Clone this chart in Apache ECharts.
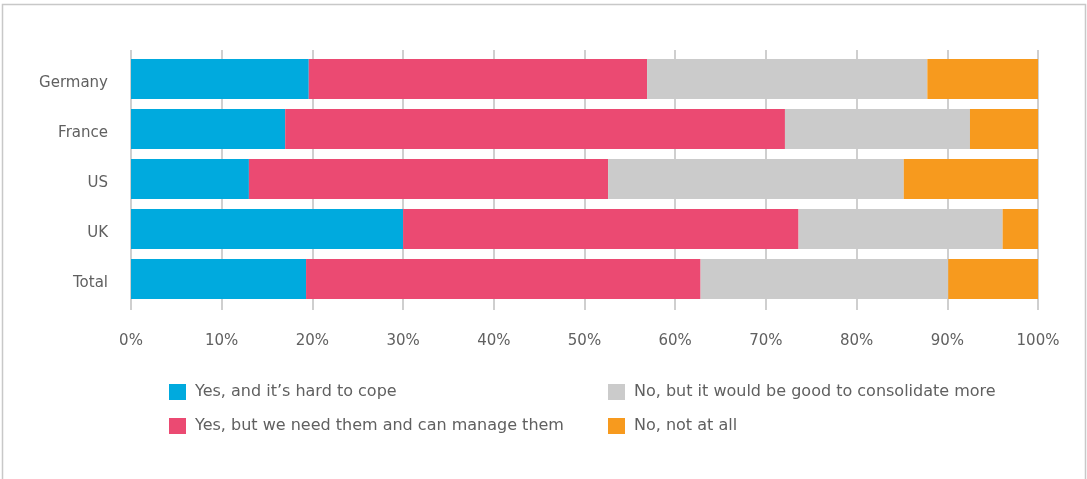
<!DOCTYPE html>
<html>
<head>
<meta charset="utf-8">
<script src="https://cdn.jsdelivr.net/npm/echarts@6/dist/echarts.min.js"></script>
<style>
html,body{margin:0;padding:0;background:#fff;}
#chart{width:1087px;height:479px;}
</style>
</head>
<body>
<div id="chart"></div>
<script>
const categories = ['Germany', 'France', 'US', 'UK', 'Total'];
const seriesNames = [
  'Yes, and it\u2019s hard to cope',
  'Yes, but we need them and can manage them',
  'No, but it would be good to consolidate more',
  'No, not at all'
];
const hardToCope = [19.6, 17.0, 13.0, 30.0, 19.3];
const needAndManage = [37.3, 55.1, 39.6, 43.6, 43.5];
const goodToConsolidate = [30.9, 20.4, 32.6, 22.5, 27.3];
const notAtAll = [12.2, 7.5, 14.8, 3.9, 9.9];
const tickValues = [0, 10, 20, 30, 40, 50, 60, 70, 80, 90, 100];

const colors = ['#00AADE', '#EB4A72', '#CBCBCB', '#F79A1E'];
const values = [hardToCope, needAndManage, goodToConsolidate, notAtAll];
const font = 'DejaVu Sans';

const chart = echarts.init(document.getElementById('chart'), null, {renderer: 'canvas'});
chart.setOption({
  animation: false,
  backgroundColor: '#fff',
  graphic: [{
    type: 'rect',
    shape: {x: 2.5, y: 4.5, width: 1083, height: 520},
    style: {fill: 'none', stroke: '#c8c8c8', lineWidth: 1.5},
    silent: true,
    z: 0
  }],
  grid: [
    {left: 131, right: 49, top: 50, height: 260},
    {left: 131, right: 49, top: 54, height: 250}
  ],
  xAxis: [
    {
      gridIndex: 0, type: 'value', min: 0, max: 100, interval: 10,
      axisLine: {show: false}, axisTick: {show: false},
      axisLabel: {
        show: true, margin: 24, color: '#606060', fontSize: 15, fontFamily: font,
        formatter: v => tickValues.includes(v) ? v + '%' : ''
      },
      splitLine: {show: true, lineStyle: {color: '#cfcfcf', width: 2}}
    },
    {
      gridIndex: 1, type: 'value', min: 0, max: 100, interval: 10,
      axisLine: {show: false}, axisTick: {show: false},
      axisLabel: {show: false}, splitLine: {show: false}
    }
  ],
  yAxis: [
    {
      gridIndex: 0, type: 'value', show: false, min: 0, max: 1
    },
    {
      gridIndex: 1, type: 'category', data: categories, inverse: true,
      axisLine: {show: false}, axisTick: {show: false},
      axisLabel: {
        margin: 23,
        formatter: v => '{c|' + v + '}',
        rich: {c: {color: '#606060', fontSize: 15, fontFamily: font, lineHeight: 18, padding: [9, 0, 0, 0]}}
      }
    }
  ],
  legend: [
    {
      orient: 'vertical', left: 169, top: 384, padding: 0,
      itemWidth: 17, itemHeight: 16, itemGap: 18,
      icon: 'rect',
      textStyle: {color: '#606060', fontSize: 16, fontFamily: font, padding: [0, 0, 0, 4]},
      data: [seriesNames[0], seriesNames[1]]
    },
    {
      orient: 'vertical', left: 608, top: 384, padding: 0,
      itemWidth: 17, itemHeight: 16, itemGap: 18,
      icon: 'rect',
      textStyle: {color: '#606060', fontSize: 16, fontFamily: font, padding: [0, 0, 0, 4]},
      data: [seriesNames[2], seriesNames[3]]
    }
  ],
  series: seriesNames.map((name, i) => ({
    name: name,
    type: 'bar',
    stack: 'total',
    xAxisIndex: 1,
    yAxisIndex: 1,
    barWidth: 40,
    itemStyle: {color: colors[i]},
    data: values[i]
  }))
});
</script>
</body>
</html>
